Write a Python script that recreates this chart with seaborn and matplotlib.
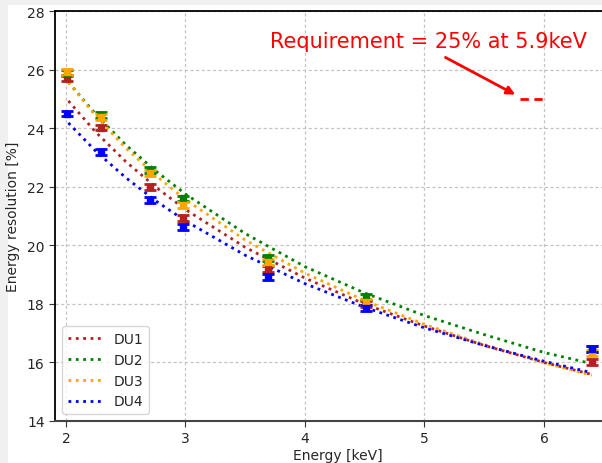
import matplotlib
matplotlib.use("Agg")
import matplotlib.pyplot as plt
import seaborn as sns
import pandas as pd
from matplotlib.patches import Rectangle

sns.set_style("ticks")
plt.rcParams['font.family'] = ['DejaVu Sans']

# Measured points
energies = [2.01, 2.29, 2.70, 2.98, 3.69, 4.51, 6.40]
du1_points = [25.70, 24.02, 21.99, 20.92, 19.19, 18.00, 16.02]
du2_points = [25.88, 24.45, 22.58, 21.60, 19.57, 18.24, 16.45]
du3_points = [25.92, 24.38, 22.46, 21.38, 19.43, 18.07, 16.32]
du4_points = [24.50, 23.19, 21.55, 20.63, 18.92, 17.86, 16.46]
point_err = [0.1, 0.1, 0.1, 0.1, 0.1, 0.1, 0.1]

# Fit curves
curve_e = [2.02, 2.25, 2.5, 2.75, 3.0, 3.5, 4.0, 4.5, 5.0, 5.5, 6.0, 6.4]
du1_curve = [24.93, 23.86, 22.86, 21.99, 21.22, 19.93, 18.88, 17.99, 17.24, 16.58, 16.00, 15.59]
du2_curve = [25.57, 24.47, 23.43, 22.54, 21.75, 20.40, 19.27, 18.37, 17.60, 16.95, 16.34, 15.96]
du3_curve = [25.57, 24.41, 23.32, 22.39, 21.56, 20.18, 19.05, 18.11, 17.30, 16.61, 15.99, 15.56]
du4_curve = [24.18, 23.21, 22.31, 21.52, 20.83, 19.66, 18.69, 17.88, 17.18, 16.58, 16.04, 15.65]

labels = ["DU1", "DU2", "DU3", "DU4"]
colors = ["firebrick", "green", "orange", "blue"]

req_text = "Requirement = 25% at 5.9keV"
req_value = 25.0
req_range = [5.8, 6.0]

xticks = [2, 3, 4, 5, 6]
yticks = [14, 16, 18, 20, 22, 24, 26, 28]

fig = plt.figure(figsize=(6.02, 4.64), dpi=100)
fig.patch.set_facecolor("#f0f0f0")
fig.patches.append(Rectangle((8 / 602, 0.0), 1, 1 - 6 / 464,
                             transform=fig.transFigure, facecolor="white",
                             edgecolor="none", zorder=-10))
ax = fig.add_axes([55 / 602, 42 / 464, 565 / 602, 410 / 464])
ax.set_facecolor("white")

points = [du1_points, du2_points, du3_points, du4_points]
curves = [du1_curve, du2_curve, du3_curve, du4_curve]

for lab, col, pts, cur in zip(labels, colors, points, curves):
    df = pd.DataFrame({"Energy": curve_e, "Res": cur})
    sns.lineplot(data=df, x="Energy", y="Res", color=col, linestyle=":",
                 linewidth=2, label=lab, ax=ax)

for lab, col, pts in zip(labels, colors, points):
    ax.errorbar(energies, pts, yerr=point_err, fmt="s", color=col, ms=4.5,
                capsize=4.5, elinewidth=2, capthick=2, zorder=5)

ax.plot(req_range, [req_value, req_value], color="red", linestyle="--",
        linewidth=2, dashes=(3, 2))
ax.annotate("", xy=(5.78, 25.1), xytext=(5.155, 26.46),
            arrowprops=dict(arrowstyle="-|>", color="red", lw=2,
                            mutation_scale=12))
ax.text(3.71, 26.97, req_text, color="red", fontsize=15, va="center", ha="left")

ax.set_xlim(1.908, 6.636)
ax.set_ylim(14, 28)
ax.set_xticks(xticks)
ax.set_yticks(yticks)
ax.tick_params(labelsize=10, length=4, color="#333333")
ax.grid(True, linestyle=(0, (2.5, 2)), color="#c4c4c4", linewidth=0.9)
ax.set_xlabel("Energy [keV]", fontsize=10, labelpad=2)
ax.set_ylabel("Energy resolution [%]", fontsize=10, labelpad=5)
for s in ["left", "top"]:
    ax.spines[s].set_color("black")
    ax.spines[s].set_linewidth(1.3)
ax.spines["bottom"].set_color("#444444")
ax.spines["bottom"].set_linewidth(1.5)

leg = ax.legend(loc="lower left", fontsize=10, frameon=True, handlelength=2.5)
leg.get_frame().set_edgecolor("#cccccc")

fig.savefig("out.png", dpi=100, facecolor=fig.get_facecolor())
